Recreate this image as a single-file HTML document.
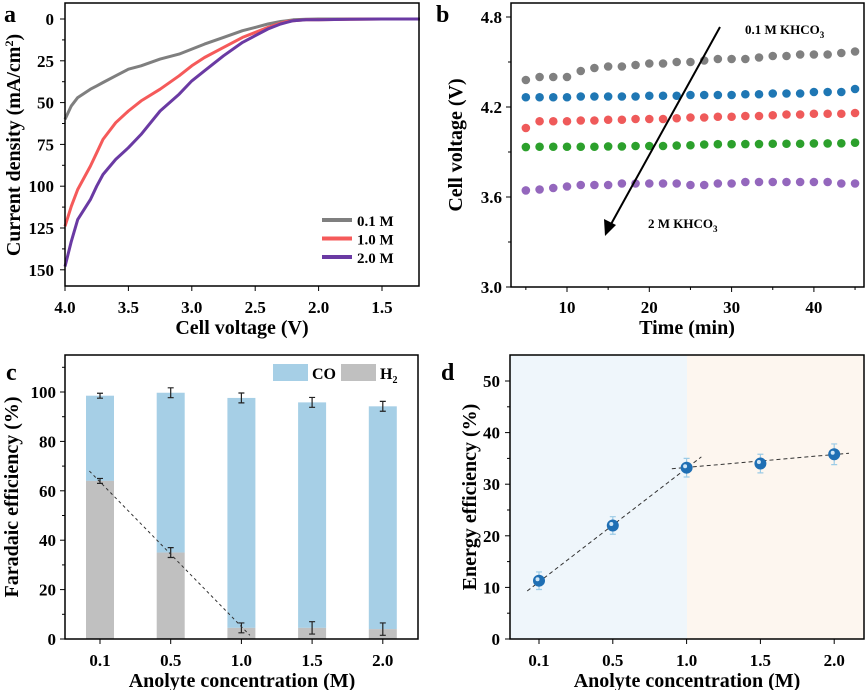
<!DOCTYPE html>
<html><head><meta charset="utf-8"><style>
body{margin:0;background:#fff}
svg{display:block}
text{font-family:"Liberation Serif",serif;font-weight:bold}
</style></head><body>
<svg id="fig" width="865" height="690" viewBox="0 0 865 690" xmlns="http://www.w3.org/2000/svg" font-family="Liberation Serif, serif" font-weight="bold">
<rect x="510" y="355" width="177" height="284" fill="#eff6fb"/>
<rect x="687" y="355" width="177" height="284" fill="#fdf6ef"/>
<g id="g"></g>
</svg>
<script>
// Panel a data
const aV = [4.0,3.95,3.9,3.8,3.75,3.7,3.6,3.5,3.4,3.25,3.1,3.0,2.9,2.75,2.6,2.5,2.4,2.3,2.25,2.2,2.1,2.0,1.75,1.5,1.2];
const a01 = [60,52,47,42,40,38,34,30,28,24,21,18,15,11,7,5,3,1.5,1,0.5,0.2,0,0,0,0];
const a10 = [124,112,102,88,80,72,62,55,49,42,34,28,23,17,11,8,5,2.5,1.5,1,0.5,0.5,0.2,0,0];
const a20 = [148,133,120,108,100,93,84,77,69,55,45,37,31,22,14,10,6,3,2,1,0.5,0.5,0.2,0,0];
const aLabels = ['0.1 M','1.0 M','2.0 M'];
const aColors = ['#7f7f7f','#f55a5a','#6a3aa3'];
// Panel b data
const bTime = [5,6.67,8.33,10,11.67,13.33,15,16.67,18.33,20,21.67,23.33,25,26.67,28.33,30,31.67,33.33,35,36.67,38.33,40,41.67,43.33,45];
const bGray = [4.38,4.40,4.40,4.40,4.44,4.46,4.47,4.47,4.48,4.49,4.49,4.50,4.50,4.51,4.52,4.52,4.52,4.53,4.54,4.54,4.55,4.55,4.55,4.56,4.57];
const bBlue = [4.265,4.265,4.265,4.265,4.27,4.27,4.27,4.27,4.27,4.275,4.275,4.275,4.28,4.28,4.28,4.28,4.285,4.285,4.29,4.29,4.29,4.30,4.30,4.30,4.32];
const bRed = [4.06,4.105,4.105,4.105,4.11,4.11,4.115,4.115,4.12,4.12,4.12,4.125,4.13,4.13,4.135,4.135,4.14,4.14,4.145,4.15,4.15,4.155,4.155,4.155,4.16];
const bGreen = [3.933,3.935,3.935,3.935,3.935,3.935,3.937,3.937,3.94,3.94,3.94,3.943,3.945,3.95,3.952,3.952,3.953,3.953,3.955,3.955,3.955,3.957,3.957,3.958,3.962];
const bPurple = [3.644,3.65,3.66,3.67,3.68,3.68,3.68,3.69,3.69,3.69,3.69,3.69,3.68,3.68,3.69,3.69,3.70,3.70,3.70,3.70,3.70,3.70,3.70,3.69,3.69];
// Panel c data
const cCats = ['0.1','0.5','1.0','1.5','2.0'];
const cTotal = [98.5,99.7,97.6,95.8,94.2];
const cTotalErr = [1,2,2,2,2];
const cH2 = [64,35,4.5,4.5,4];
const cH2Err = [1,2,2,2.5,2.5];
// Panel d data
const dCats = ['0.1','0.5','1.0','1.5','2.0'];
const dEE = [11.3,22,33.2,34,35.8];
const dErr = [1.7,1.7,1.8,1.8,2];

const NS='http://www.w3.org/2000/svg';
const G=document.getElementById('g');
function el(tag,attrs,parent,text){const e=document.createElementNS(NS,tag);for(const k in attrs)e.setAttribute(k,attrs[k]);if(text!==undefined)e.textContent=text;(parent||G).appendChild(e);return e;}
function txt(x,y,s,size,anchor,name,rot){const t=el('text',{x:x,y:y,'font-size':size,'text-anchor':anchor||'middle','font-weight':'bold','font-family':'Liberation Serif, serif'});t.textContent=s;


if(rot)t.setAttribute('transform','rotate(-90 '+x+' '+y+')');return t;}

// ---------- Panel a ----------
const ax=v=>65+(4.0-v)/0.5*63.4, ay=v=>19+v/25*41.8;
[[a01,0],[a10,1],[a20,2]].forEach(([arr,i])=>{
 const p=el('path',{d:arr.map((v,k)=>(k?'L':'M')+ax(aV[k]).toFixed(1)+','+ay(v).toFixed(1)).join(''),fill:'none',stroke:aColors[i],'stroke-width':3,'stroke-linejoin':'round'});
 
 
 const ly=220+i*18.5;
 const l=el('line',{x1:322,x2:352,y1:ly,y2:ly,stroke:aColors[i],'stroke-width':4});
 
 
 txt(357,ly+6,aLabels[i],15,'start','legend-label');
});
el('rect',{x:65,y:3,width:354,height:283,fill:'none',stroke:'#000','stroke-width':1.5});
[0,25,50,75,100,125,150].forEach(v=>{el('line',{x1:65,x2:60,y1:ay(v),y2:ay(v),stroke:'#000'});txt(54,ay(v)+6,String(v),17,'end','y-tick-label');});
[12.5,37.5,62.5,87.5,112.5,137.5].forEach(v=>el('line',{x1:65,x2:62,y1:ay(v),y2:ay(v),stroke:'#000'}));
[4.0,3.5,3.0,2.5,2.0,1.5].forEach(v=>{el('line',{x1:ax(v),x2:ax(v),y1:286,y2:291,stroke:'#000'});txt(ax(v),313,v.toFixed(1),17,'middle','x-tick-label');});
txt(242,334,'Cell voltage (V)',20,'middle','x-axis-title');
const yt=txt(20,145,'Current density (mA/cm',20,'middle','y-axis-title',true);
el('tspan',{dy:-7,'font-size':12},yt,'2');el('tspan',{dy:7},yt,')');
txt(4,22,'a',24,'start','panel-label');

// ---------- Panel b ----------
const bx=t=>567+(t-10)*8.23, by=v=>17+(4.8-v)/0.6*90;
[[bGray,'#808080','gray'],[bBlue,'#1f77b4','blue'],[bRed,'#ef5a5a','red'],[bGreen,'#2ca02c','green'],[bPurple,'#9467bd','purple']].forEach(([arr,c,n])=>{
 arr.forEach((v,k)=>{const d=el('circle',{cx:bx(bTime[k]),cy:by(v),r:4.3,fill:c});
 
 });
});
el('rect',{x:511,y:3,width:353,height:284,fill:'none',stroke:'#000','stroke-width':1.5});
[3.0,3.6,4.2,4.8].forEach(v=>{el('line',{x1:511,x2:506,y1:by(v),y2:by(v),stroke:'#000'});txt(502,by(v)+6,v.toFixed(1),17,'end','y-tick-label');});
[3.3,3.9,4.5].forEach(v=>el('line',{x1:511,x2:508,y1:by(v),y2:by(v),stroke:'#000'}));
[10,20,30,40].forEach(v=>{el('line',{x1:bx(v),x2:bx(v),y1:287,y2:292,stroke:'#000'});txt(bx(v),313,String(v),17,'middle','x-tick-label');});
[5,15,25,35,45].forEach(v=>el('line',{x1:bx(v),x2:bx(v),y1:287,y2:290,stroke:'#000'}));
txt(687,334,'Time (min)',20,'middle','x-axis-title');
txt(462,145,'Cell voltage (V)',20,'middle','y-axis-title',true);
txt(436,22,'b',24,'start','panel-label');
el('line',{x1:720,y1:27,x2:610,y2:226,stroke:'#000','stroke-width':2});
el('polygon',{points:'605,236 604,219 616,225',fill:'#000'});
const t1=txt(745,34,'0.1 M KHCO',13,'start','annotation-0.1M');el('tspan',{dy:4,'font-size':9},t1,'3');
const t2=txt(648,228,'2 M KHCO',13,'start','annotation-2M');el('tspan',{dy:4,'font-size':9},t2,'3');

// ---------- Panel c ----------
const cx=i=>100+i*70.7, cy=v=>639-v*2.47;
cCats.forEach((c,i)=>{
 const x=cx(i)-14;
 const b1=el('rect',{x:x,y:cy(cTotal[i]),width:28,height:cy(cH2[i])-cy(cTotal[i]),fill:'#a6cfe6'});
 
 
 const b2=el('rect',{x:x,y:cy(cH2[i]),width:28,height:639-cy(cH2[i]),fill:'#c0c0c0'});
 
 
 [[cTotal[i],cTotalErr[i]],[cH2[i],cH2Err[i]]].forEach(([v,e])=>{
  el('path',{d:`M${cx(i)},${cy(v+e)}V${cy(v-e)}M${cx(i)-3},${cy(v+e)}h6M${cx(i)-3},${cy(v-e)}h6`,stroke:'#222','stroke-width':1.2,fill:'none'});
 });
});
el('line',{x1:cx(-0.15),y1:cy(68),x2:cx(2.12),y2:cy(1.5),stroke:'#333','stroke-dasharray':'3,3','stroke-width':1});
el('rect',{x:65,y:355,width:353,height:284,fill:'none',stroke:'#000','stroke-width':1.5});
[0,20,40,60,80,100].forEach(v=>{el('line',{x1:65,x2:60,y1:cy(v),y2:cy(v),stroke:'#000'});txt(56,cy(v)+6,String(v),17,'end','y-tick-label');});
[10,30,50,70,90,110].forEach(v=>el('line',{x1:65,x2:62,y1:cy(v),y2:cy(v),stroke:'#000'}));
cCats.forEach((c,i)=>{el('line',{x1:cx(i),x2:cx(i),y1:639,y2:644,stroke:'#000'});txt(cx(i),666,c,17,'middle','x-tick-label');});
txt(242,687,'Anolyte concentration (M)',20,'middle','x-axis-title');
txt(18,497,'Faradaic efficiency (%)',20,'middle','y-axis-title',true);
txt(6,380,'c',24,'start','panel-label');
const l1=el('rect',{x:273,y:364,width:35,height:17,fill:'#a6cfe6'});
txt(312,379,'CO',16,'start','legend-label');
const l2=el('rect',{x:341,y:364,width:35,height:17,fill:'#c0c0c0'});
const ht=txt(380,379,'H',16,'start','legend-label');el('tspan',{dy:4,'font-size':10},ht,'2');

// ---------- Panel d ----------
const dx=i=>539+i*73.8, dy=v=>639-v*5.16;
el('line',{x1:dx(-0.16),y1:dy(9.3),x2:dx(2.2),y2:dy(35.3),stroke:'#333','stroke-dasharray':'4,3'});
el('line',{x1:dx(1.8),y1:dy(33),x2:dx(4.2),y2:dy(36),stroke:'#333','stroke-dasharray':'4,3'});
dCats.forEach((c,i)=>{
 el('path',{d:`M${dx(i)},${dy(dEE[i]+dErr[i])}V${dy(dEE[i]-dErr[i])}M${dx(i)-3},${dy(dEE[i]+dErr[i])}h6M${dx(i)-3},${dy(dEE[i]-dErr[i])}h6`,stroke:'#9ccbe6','stroke-width':1.2,fill:'none'});
 const p=el('circle',{cx:dx(i),cy:dy(dEE[i]),r:6,fill:'#1f6fb4'});
 
 
 el('circle',{cx:dx(i)-1.5,cy:dy(dEE[i])-1.5,r:2,fill:'#cfe6f7'});
});
el('rect',{x:510,y:355,width:354,height:284,fill:'none',stroke:'#000','stroke-width':1.5});
[0,10,20,30,40,50].forEach(v=>{el('line',{x1:510,x2:505,y1:dy(v),y2:dy(v),stroke:'#000'});txt(500,dy(v)+6,String(v),17,'end','y-tick-label');});
[5,15,25,35,45].forEach(v=>el('line',{x1:510,x2:507,y1:dy(v),y2:dy(v),stroke:'#000'}));
dCats.forEach((c,i)=>{el('line',{x1:dx(i),x2:dx(i),y1:639,y2:644,stroke:'#000'});txt(dx(i),666,c,17,'middle','x-tick-label');});
txt(687,687,'Anolyte concentration (M)',20,'middle','x-axis-title');
txt(476,497,'Energy efficiency (%)',20,'middle','y-axis-title',true);
txt(441,380,'d',24,'start','panel-label');
</script>
</body></html>
